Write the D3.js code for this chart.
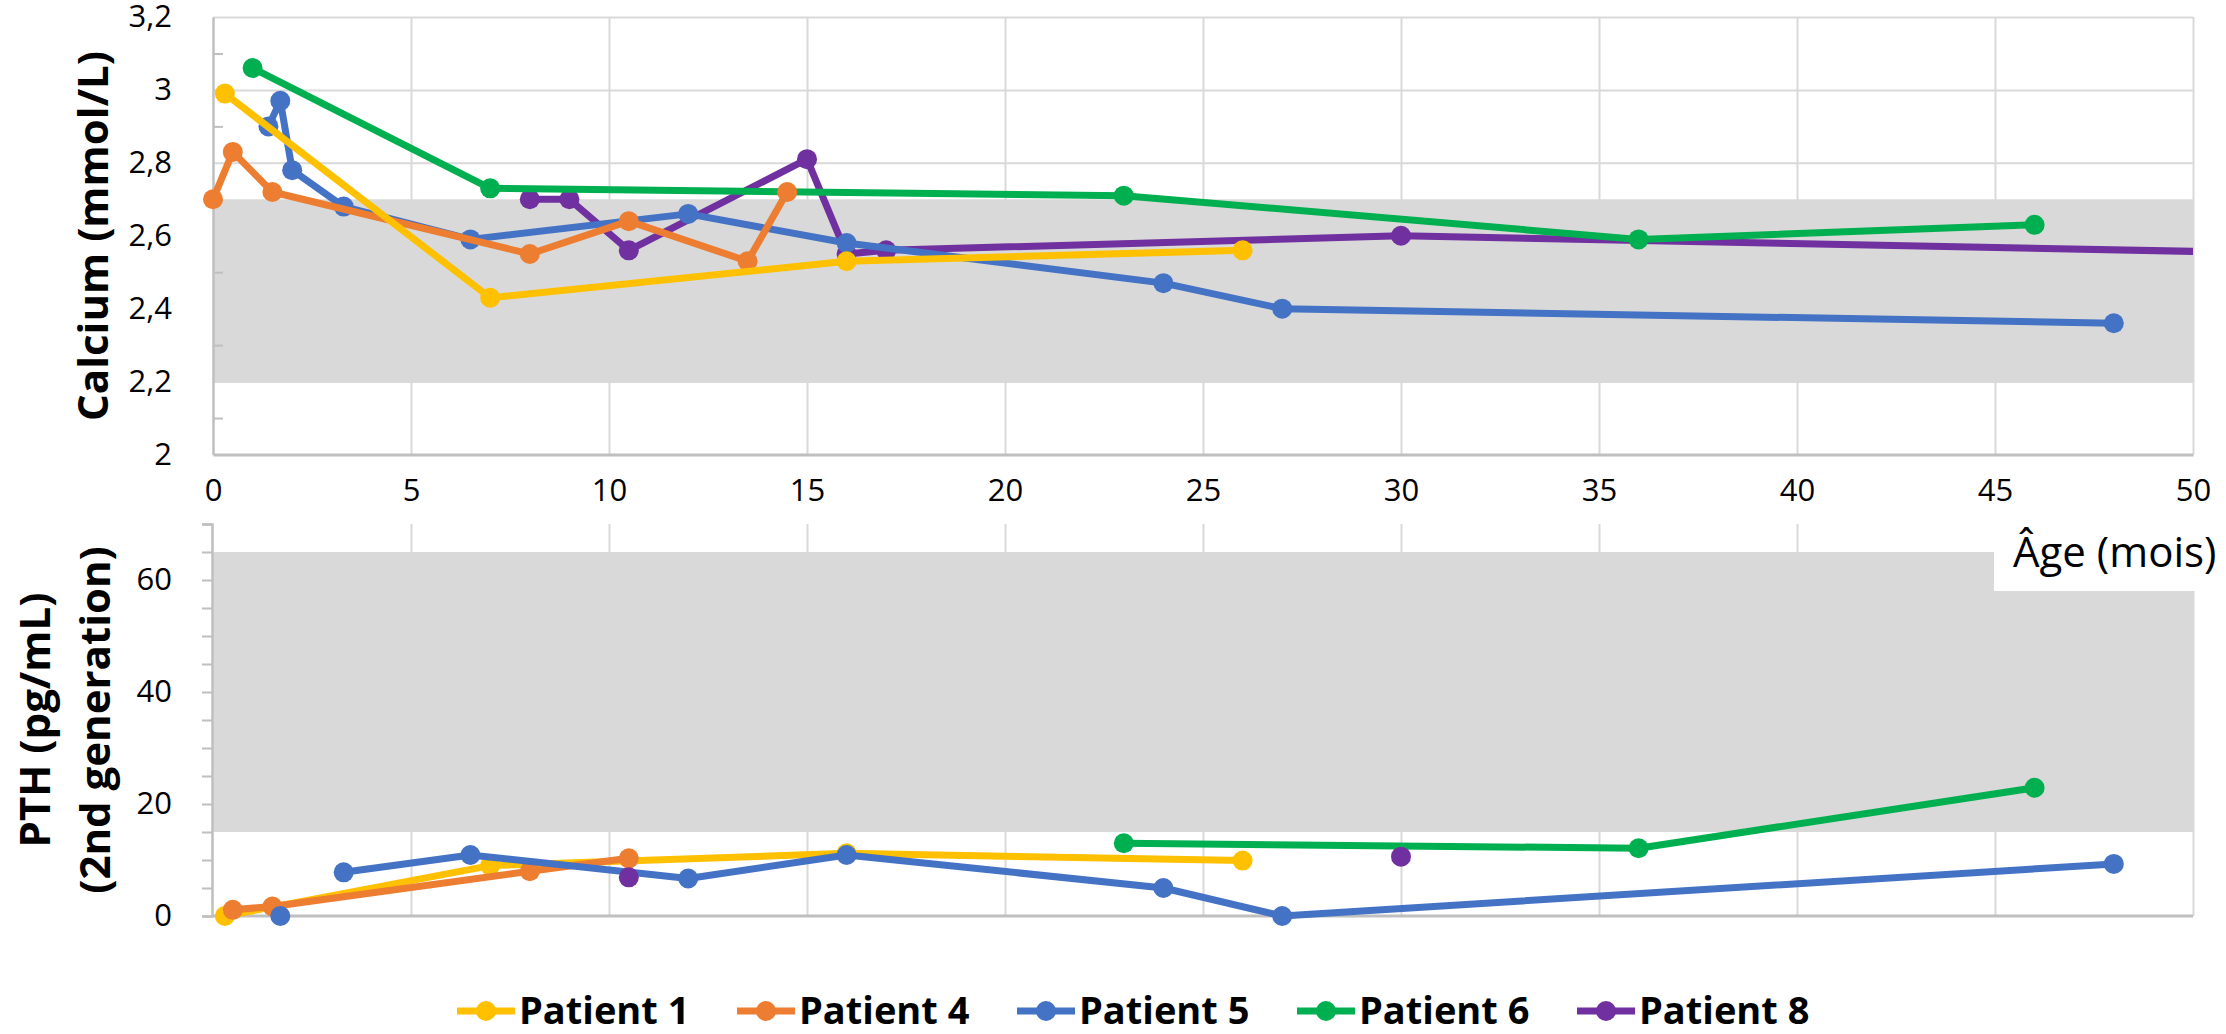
<!DOCTYPE html>
<html>
<head>
<meta charset="utf-8">
<script src="https://cdn.jsdelivr.net/npm/d3@7"></script>
<style>
  html, body { margin: 0; padding: 0; background: #ffffff; }
  svg { display: block; }
  text { font-family: "Open Sans", "Noto Sans", sans-serif; fill: #000; }
</style>
</head>
<body>
<svg id="chart" width="2226" height="1034"></svg>
<script>
// Patients and their colours
const patients = ["Patient 1", "Patient 4", "Patient 5", "Patient 6", "Patient 8"];
const colors = ["#FFC000", "#ED7D31", "#4472C4", "#00B050", "#7030A0"];

// Calcium (mmol/L) by age (months)
const caAge1 = [0.3, 7, 16, 26];
const ca1    = [2.99, 2.43, 2.53, 2.56];
const caAge4 = [0, 0.5, 1.5, 8, 10.5, 13.5, 14.5];
const ca4    = [2.70, 2.83, 2.72, 2.55, 2.64, 2.53, 2.72];
const caAge5 = [1.4, 1.7, 2, 3.3, 6.5, 12, 16, 24, 27, 48];
const ca5    = [2.90, 2.97, 2.78, 2.68, 2.59, 2.66, 2.58, 2.47, 2.40, 2.36];
const caAge6 = [1, 7, 23, 36, 46];
const ca6    = [3.06, 2.73, 2.71, 2.59, 2.63];
const caAge8 = [8, 9, 10.5, 15, 16, 17, 30, 58];
const ca8    = [2.70, 2.70, 2.56, 2.81, 2.55, 2.56, 2.60, 2.54];

// PTH (pg/mL) by age (months); null = no measurement (gap in line)
const pthAge1 = [0.3, 7, 16, 26];
const pth1    = [0, 9.0, 11.2, 9.9];
const pthAge4 = [0.5, 1.5, 8, 10.5];
const pth4    = [1.1, 1.7, 8.0, 10.3];
const pthAge5 = [1.7, 2, 3.3, 6.5, 12, 16, 24, 27, 48];
const pth5    = [0, null, 7.8, 10.9, 6.7, 10.9, 5.0, 0, 9.3];
const pthAge6 = [23, 36, 46];
const pth6    = [13.0, 12.1, 22.9];
const pthAge8 = [10.5, 15, 30];
const pth8    = [6.9, null, 10.6];

// Reference ranges
const caRange  = [2.2, 2.7];
const pthRange = [15, 65];

// Axis ticks
const ageTicks = [0, 5, 10, 15, 20, 25, 30, 35, 40, 45, 50];
const caTicks = [2, 2.2, 2.4, 2.6, 2.8, 3, 3.2];
const caTickLabels = ["2", "2,2", "2,4", "2,6", "2,8", "3", "3,2"];
const caMinorTicks = [2.1, 2.3, 2.5, 2.7, 2.9, 3.1];
const pthTicks = [0, 20, 40, 60];
const pthTickLabels = ["0", "20", "40", "60"];
const pthMinorTicks = [0, 5, 10, 15, 20, 25, 30, 35, 40, 45, 50, 55, 60, 65, 70];

const caSeries  = [[caAge1, ca1], [caAge4, ca4], [caAge5, ca5], [caAge6, ca6], [caAge8, ca8]];
const pthSeries = [[pthAge1, pth1], [pthAge4, pth4], [pthAge5, pth5], [pthAge6, pth6], [pthAge8, pth8]];

const svg = d3.select("#chart");
const GRID = "#D9D9D9", AXIS = "#BFBFBF", BAND = "#D9D9D9";

const x = d3.scaleLinear().domain([0, 50]).range([213, 2193]);
const yCa = d3.scaleLinear().domain([2, 3.2]).range([454.5, 17]);
const yPth = d3.scaleLinear().domain([0, 70]).range([916, 524]);

svg.append("defs").append("clipPath").attr("id", "plotClip")
  .append("rect").attr("x", 150).attr("y", 0).attr("width", x(50) - 150).attr("height", 1034);

// ---------- Calcium panel ----------
const caPanel = svg.append("g");
// horizontal gridlines
caPanel.append("g").attr("transform", `translate(${x(0)},0)`)
  .call(d3.axisLeft(yCa).tickValues(caTicks.slice(1)).tickSize(-(x(50) - x(0))).tickFormat(""))
  .call(g => g.select(".domain").remove())
  .call(g => g.selectAll("line").attr("stroke", GRID).attr("stroke-width", 2));
// vertical gridlines
caPanel.append("g").attr("transform", `translate(0,${yCa(3.2)})`)
  .call(d3.axisBottom(x).tickValues(ageTicks.slice(1)).tickSize(yCa(2) - yCa(3.2)).tickFormat(""))
  .call(g => g.select(".domain").remove())
  .call(g => g.selectAll("line").attr("stroke", GRID).attr("stroke-width", 2));
// normal range band
caPanel.append("rect").attr("x", x(0)).attr("width", x(50) - x(0))
  .attr("y", yCa(caRange[1])).attr("height", yCa(caRange[0]) - yCa(caRange[1]))
  .attr("fill", BAND);
// minor ticks (inside)
caPanel.append("g").attr("transform", `translate(${x(0)},0)`)
  .call(d3.axisRight(yCa).tickValues(caMinorTicks).tickSize(10).tickFormat(""))
  .call(g => g.select(".domain").remove())
  .call(g => g.selectAll("line").attr("stroke", AXIS).attr("stroke-width", 2));
// left axis with labels
caPanel.append("g").attr("transform", `translate(${x(0)},0)`)
  .call(d3.axisLeft(yCa).tickValues(caTicks).tickSize(0).tickPadding(41)
    .tickFormat((d, i) => caTickLabels[i]))
  .call(g => g.select(".domain").attr("stroke", AXIS).attr("stroke-width", 2.5))
  .call(g => g.selectAll("text").attr("font-size", 31).attr("font-family", "Open Sans").attr("fill", "#000"));
// bottom axis with age labels
caPanel.append("g").attr("transform", `translate(0,${yCa(2)})`)
  .call(d3.axisBottom(x).tickValues(ageTicks).tickSize(0).tickPadding(24))
  .call(g => g.select(".domain").attr("stroke", AXIS).attr("stroke-width", 3))
  .call(g => g.selectAll("text").attr("font-size", 31).attr("font-family", "Open Sans").attr("fill", "#000"));

// ---------- PTH panel ----------
const pthPanel = svg.append("g");
pthPanel.append("g").attr("transform", `translate(0,${yPth(70)})`)
  .call(d3.axisBottom(x).tickValues(ageTicks.slice(1)).tickSize(yPth(0) - yPth(70)).tickFormat(""))
  .call(g => g.select(".domain").remove())
  .call(g => g.selectAll("line").attr("stroke", GRID).attr("stroke-width", 2));
pthPanel.append("rect").attr("x", x(0)).attr("width", x(50) - x(0))
  .attr("y", yPth(pthRange[1])).attr("height", yPth(pthRange[0]) - yPth(pthRange[1]))
  .attr("fill", BAND);
// ticks every 5 (outside)
pthPanel.append("g").attr("transform", `translate(${x(0) - 1},0)`)
  .call(d3.axisLeft(yPth).tickValues(pthMinorTicks).tickSize(10).tickFormat(""))
  .call(g => g.select(".domain").attr("stroke", AXIS).attr("stroke-width", 2.5))
  .call(g => g.selectAll("line").attr("stroke", AXIS).attr("stroke-width", 2));
pthPanel.append("g").attr("transform", `translate(${x(0) - 1},0)`)
  .call(d3.axisLeft(yPth).tickValues(pthTicks).tickSize(0).tickPadding(40)
    .tickFormat((d, i) => pthTickLabels[i]))
  .call(g => g.select(".domain").remove())
  .call(g => g.selectAll("text").attr("font-size", 31).attr("font-family", "Open Sans").attr("fill", "#000"));
pthPanel.append("line").attr("x1", x(0)).attr("x2", x(50)).attr("y1", yPth(0)).attr("y2", yPth(0))
  .attr("stroke", AXIS).attr("stroke-width", 3);

// ---------- series ----------
function drawSeries(g, series, yScale, order) {
  const line = d3.line().defined(d => d[1] !== null).x(d => x(d[0])).y(d => yScale(d[1]));
  order.forEach(i => {
    const [ages, vals] = series[i];
    const pts = ages.map((a, k) => [a, vals[k]]);
    const sg = g.append("g");
    sg.append("path").datum(pts).attr("d", line)
      .attr("clip-path", "url(#plotClip)")
      .attr("fill", "none").attr("stroke", colors[i]).attr("stroke-width", 7)
      .attr("stroke-linejoin", "round");
    sg.selectAll("circle").data(pts.filter(d => d[1] !== null && d[0] <= 50)).join("circle")
      .attr("cx", d => x(d[0])).attr("cy", d => yScale(d[1])).attr("r", 10)
      .attr("fill", colors[i]);
  });
}
drawSeries(svg.append("g"), caSeries, yCa, [4, 3, 2, 1, 0]);
drawSeries(svg.append("g"), pthSeries, yPth, [0, 1, 2, 3, 4]);

// ---------- axis titles ----------
svg.append("text").attr("transform", `translate(108,236) rotate(-90)`)
  .attr("text-anchor", "middle").attr("font-weight", 700).attr("font-size", 42)
  .text("Calcium (mmol/L)");
svg.append("text").attr("transform", `translate(50,720) rotate(-90)`)
  .attr("text-anchor", "middle").attr("font-weight", 700).attr("font-size", 42)
  .text("PTH (pg/mL)");
svg.append("text").attr("transform", `translate(110,720) rotate(-90)`)
  .attr("text-anchor", "middle").attr("font-weight", 700).attr("font-size", 42)
  .text("(2nd generation)");

// age axis title box
svg.append("rect").attr("x", 1994).attr("y", 524).attr("width", 232).attr("height", 67).attr("fill", "#fff");
svg.append("text").attr("x", 2013).attr("y", 567).attr("font-size", 42).text("Âge (mois)");

// ---------- legend ----------
const legend = svg.append("g");
patients.forEach((p, i) => {
  const lx = 457 + i * 280;
  const gi = legend.append("g").attr("transform", `translate(${lx},1011)`);
  gi.append("line").attr("x1", 0).attr("x2", 58).attr("stroke", colors[i]).attr("stroke-width", 7);
  gi.append("circle").attr("cx", 29).attr("r", 10).attr("fill", colors[i]);
  gi.append("text").attr("x", 62).attr("y", 13).attr("font-size", 38).attr("font-weight", 700).text(p);
});
</script>
</body>
</html>
